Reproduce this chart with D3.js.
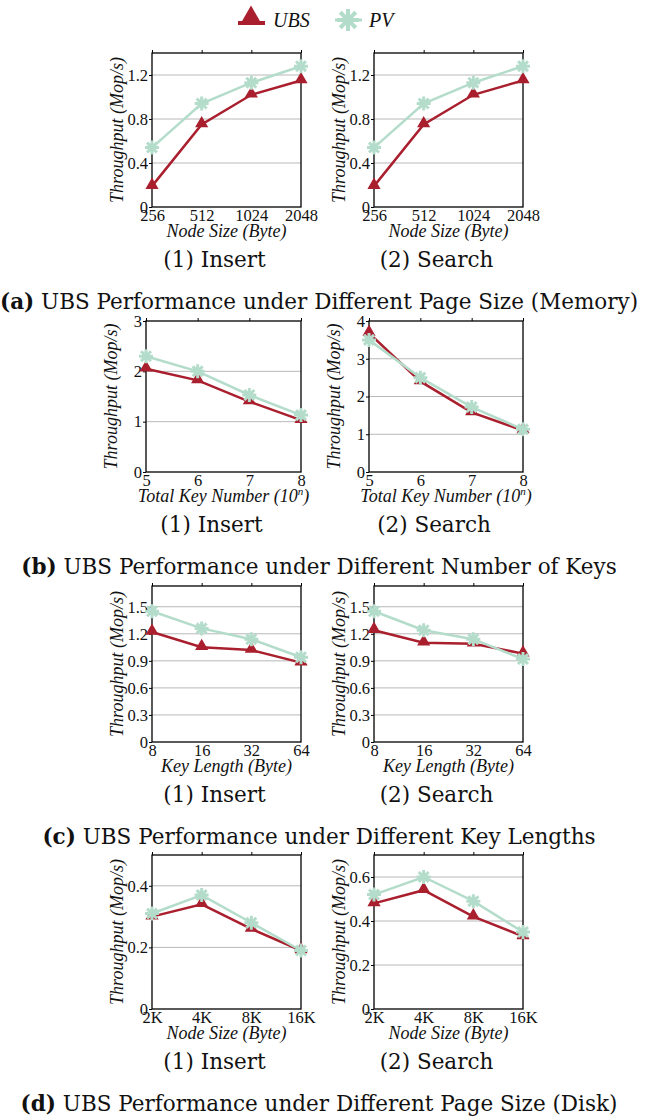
<!DOCTYPE html>
<html>
<head>
<meta charset="utf-8">
<style>
  body { margin: 0; background: #fff; }
  svg { display: block; }
  .tick-label { font-family: "Liberation Serif", serif; font-size: 16.5px; fill: #111; }
  .axis-label { font-family: "Liberation Serif", serif; font-style: italic; font-size: 18px; fill: #111; }
  .caption { font-family: "DejaVu Serif", serif; font-size: 21.5px; fill: #111; }
  .legend-text { font-family: "Liberation Serif", serif; font-style: italic; font-size: 20px; fill: #111; }
</style>
</head>
<body>
<script src="https://d3js.org/d3.v7.min.js"></script>
<script>

var width = 646,
    height = 1119;

var ubsColor = "#a91f2e",
    pvColor = "#b4dccb";

// series names
var seriesNames = ["UBS", "PV"];

// categories on the x axes
var memPageSizes = ["256", "512", "1024", "2048"];
var keyNumbers = ["5", "6", "7", "8"];
var keyLengths = ["8", "16", "32", "64"];
var diskPageSizes = ["2K", "4K", "8K", "16K"];

// y ticks and top of each y axis
var ticksMem = [0, 0.4, 0.8, 1.2];
var ticksKeysInsert = [0, 1, 2, 3];
var ticksKeysSearch = [0, 1, 2, 3, 4];
var ticksLen = [0, 0.3, 0.6, 0.9, 1.2, 1.5];
var ticksDiskInsert = [0, 0.2, 0.4];
var ticksDiskSearch = [0, 0.2, 0.4, 0.6];
var yMax = [1.4, 1.4, 3, 4, 1.73, 1.73, 0.5, 0.7];

// throughput (Mop/s)
var ubsMemInsert = [0.19, 0.75, 1.02, 1.15];
var pvMemInsert = [0.54, 0.94, 1.13, 1.28];
var ubsMemSearch = [0.19, 0.75, 1.02, 1.15];
var pvMemSearch = [0.54, 0.94, 1.13, 1.28];

var ubsKeysInsert = [2.05, 1.82, 1.40, 1.03];
var pvKeysInsert = [2.30, 2.00, 1.53, 1.13];
var ubsKeysSearch = [3.68, 2.40, 1.58, 1.10];
var pvKeysSearch = [3.50, 2.50, 1.72, 1.13];

var ubsLenInsert = [1.22, 1.05, 1.02, 0.88];
var pvLenInsert = [1.45, 1.26, 1.14, 0.94];
var ubsLenSearch = [1.24, 1.10, 1.09, 0.98];
var pvLenSearch = [1.45, 1.24, 1.14, 0.92];

var ubsDiskInsert = [0.30, 0.34, 0.26, 0.19];
var pvDiskInsert = [0.31, 0.37, 0.28, 0.19];
var ubsDiskSearch = [0.48, 0.54, 0.42, 0.33];
var pvDiskSearch = [0.52, 0.60, 0.49, 0.35];

var subTitles = ["(1) Insert", "(2) Search"];
var rowTitles = [
  ["(a)", " UBS Performance under Different Page Size (Memory)"],
  ["(b)", " UBS Performance under Different Number of Keys"],
  ["(c)", " UBS Performance under Different Key Lengths"],
  ["(d)", " UBS Performance under Different Page Size (Disk)"]
];
var xTitles = ["Node Size (Byte)", "Total Key Number (10", "Key Length (Byte)", "Node Size (Byte)"];

// layout of the rows and panels
var rows = [
  {top: 53,  bottom: 207,  cols: [[152, 301], [374, 523]]},
  {top: 321, bottom: 472,  cols: [[146, 301], [369, 523]]},
  {top: 586, bottom: 742,  cols: [[152, 301], [374, 523]]},
  {top: 855, bottom: 1009, cols: [[152, 301], [374, 523]]}
];

var dec = d3.format(".1f"),
    int = d3.format("d");
function decFmt(d) { return d === 0 ? "0" : dec(d); }

var panels = [
  {row: 0, col: 0, cats: memPageSizes, ticks: ticksMem, ubs: ubsMemInsert, pv: pvMemInsert, fmt: decFmt},
  {row: 0, col: 1, cats: memPageSizes, ticks: ticksMem, ubs: ubsMemSearch, pv: pvMemSearch, fmt: decFmt},
  {row: 1, col: 0, cats: keyNumbers, ticks: ticksKeysInsert, ubs: ubsKeysInsert, pv: pvKeysInsert, fmt: int},
  {row: 1, col: 1, cats: keyNumbers, ticks: ticksKeysSearch, ubs: ubsKeysSearch, pv: pvKeysSearch, fmt: int},
  {row: 2, col: 0, cats: keyLengths, ticks: ticksLen, ubs: ubsLenInsert, pv: pvLenInsert, fmt: decFmt},
  {row: 2, col: 1, cats: keyLengths, ticks: ticksLen, ubs: ubsLenSearch, pv: pvLenSearch, fmt: decFmt},
  {row: 3, col: 0, cats: diskPageSizes, ticks: ticksDiskInsert, ubs: ubsDiskInsert, pv: pvDiskInsert, fmt: decFmt},
  {row: 3, col: 1, cats: diskPageSizes, ticks: ticksDiskSearch, ubs: ubsDiskSearch, pv: pvDiskSearch, fmt: decFmt}
];

var svg = d3.select("body").append("svg")
    .attr("width", width)
    .attr("height", height);

// 8-arm asterisk marker
function asterisk(r) {
  var p = d3.path();
  for (var k = 0; k < 4; k++) {
    var a = k * Math.PI / 4;
    p.moveTo(-r * Math.cos(a), -r * Math.sin(a));
    p.lineTo(r * Math.cos(a), r * Math.sin(a));
  }
  return p.toString();
}

var triangle = d3.symbol().type(d3.symbolTriangle);

// legend
var legend = svg.append("g").attr("class", "legend");

legend.append("line")
  .attr("x1", 238).attr("x2", 265).attr("y1", 23).attr("y2", 23)
  .attr("stroke", ubsColor).attr("stroke-width", 4);
legend.append("path")
  .attr("d", triangle.size(170)())
  .attr("transform", "translate(251,17)")
  .attr("fill", ubsColor);
legend.append("text").attr("class", "legend-text")
  .attr("x", 273).attr("y", 27).text(seriesNames[0]);

legend.append("line")
  .attr("x1", 335).attr("x2", 362).attr("y1", 20).attr("y2", 20)
  .attr("stroke", pvColor).attr("stroke-width", 3);
legend.append("path")
  .attr("d", asterisk(11))
  .attr("transform", "translate(348,20)")
  .attr("stroke", pvColor).attr("stroke-width", 4).attr("fill", "none");
legend.append("text").attr("class", "legend-text")
  .attr("x", 369).attr("y", 27).text(seriesNames[1]);

panels.forEach(function(p, i) {
  var row = rows[p.row];
  var left = row.cols[p.col][0],
      right = row.cols[p.col][1];

  var x = d3.scalePoint().domain(p.cats).range([left, right]).padding(0);
  var y = d3.scaleLinear().domain([0, yMax[i]]).range([row.bottom, row.top]);

  var g = svg.append("g").attr("class", "panel");

  // grid lines
  g.selectAll(".grid")
    .data(p.ticks.filter(function(t) { return t > 0 && y(t) > row.top + 1; }))
    .enter().append("line")
    .attr("class", "grid")
    .attr("x1", left).attr("x2", right)
    .attr("y1", function(d) { return y(d); })
    .attr("y2", function(d) { return y(d); })
    .attr("stroke", "#b8b8b8")
    .attr("stroke-width", 1);

  // left axis
  var yAxis = g.append("g")
    .attr("transform", "translate(" + left + ",0)")
    .call(d3.axisLeft(y).tickValues(p.ticks).tickFormat(p.fmt).tickSize(3).tickPadding(1));
  yAxis.select(".domain").remove();
  yAxis.selectAll("text").attr("class", "tick-label").attr("font-size", null).attr("font-family", null);

  // bottom axis
  var xAxis = g.append("g")
    .attr("transform", "translate(0," + row.bottom + ")")
    .call(d3.axisBottom(x).tickSize(0).tickPadding(2));
  xAxis.select(".domain").remove();
  xAxis.selectAll("text").attr("class", "tick-label").attr("font-size", null).attr("font-family", null);

  // top ticks
  var topAxis = g.append("g")
    .attr("transform", "translate(0," + row.top + ")")
    .call(d3.axisTop(x).tickSize(3).tickFormat(""));
  topAxis.select(".domain").remove();

  // frame
  g.append("rect")
    .attr("x", left).attr("y", row.top)
    .attr("width", right - left).attr("height", row.bottom - row.top)
    .attr("fill", "none").attr("stroke", "#000").attr("stroke-width", 1.3);

  // lines
  var line = d3.line()
    .x(function(d, j) { return x(p.cats[j]); })
    .y(function(d) { return y(d); });

  g.append("path").datum(p.ubs)
    .attr("d", line).attr("fill", "none")
    .attr("stroke", ubsColor).attr("stroke-width", 2.5);
  g.selectAll(".ubs-pt").data(p.ubs).enter().append("path")
    .attr("class", "ubs-pt")
    .attr("d", triangle.size(75)())
    .attr("transform", function(d, j) { return "translate(" + x(p.cats[j]) + "," + (y(d) - 1) + ")"; })
    .attr("fill", ubsColor);

  g.append("path").datum(p.pv)
    .attr("d", line).attr("fill", "none")
    .attr("stroke", pvColor).attr("stroke-width", 2.5);
  g.selectAll(".pv-pt").data(p.pv).enter().append("path")
    .attr("class", "pv-pt")
    .attr("d", asterisk(7))
    .attr("transform", function(d, j) { return "translate(" + x(p.cats[j]) + "," + y(d) + ")"; })
    .attr("stroke", pvColor).attr("stroke-width", 3).attr("fill", "none");

  // y title
  g.append("text").attr("class", "axis-label")
    .attr("transform", "translate(" + (left - 29) + "," + ((row.top + row.bottom) / 2) + ") rotate(-90)")
    .attr("text-anchor", "middle")
    .text("Throughput (Mop/s)");

  // x title
  var xt = g.append("text").attr("class", "axis-label")
    .attr("x", (left + right) / 2).attr("y", row.bottom + 30)
    .attr("text-anchor", "middle")
    .text(xTitles[p.row]);
  if (p.row === 1) {
    xt.attr("font-size", "17px");
    xt.append("tspan").attr("dy", -7).attr("font-size", "11px").text("n");
    xt.append("tspan").attr("dy", 7).text(")");
  }

  // sub caption
  svg.append("text").attr("class", "caption")
    .attr("x", (left + right) / 2 - 12).attr("y", row.bottom + 60)
    .attr("text-anchor", "middle")
    .text(subTitles[p.col]);
});

// row captions
rows.forEach(function(r, i) {
  var t = svg.append("text").attr("class", "caption")
    .attr("x", 319).attr("y", r.bottom + 102)
    .attr("text-anchor", "middle");
  t.append("tspan").attr("font-weight", "bold").text(rowTitles[i][0]);
  t.append("tspan").text(rowTitles[i][1]);
});

</script>
</body>
</html>
